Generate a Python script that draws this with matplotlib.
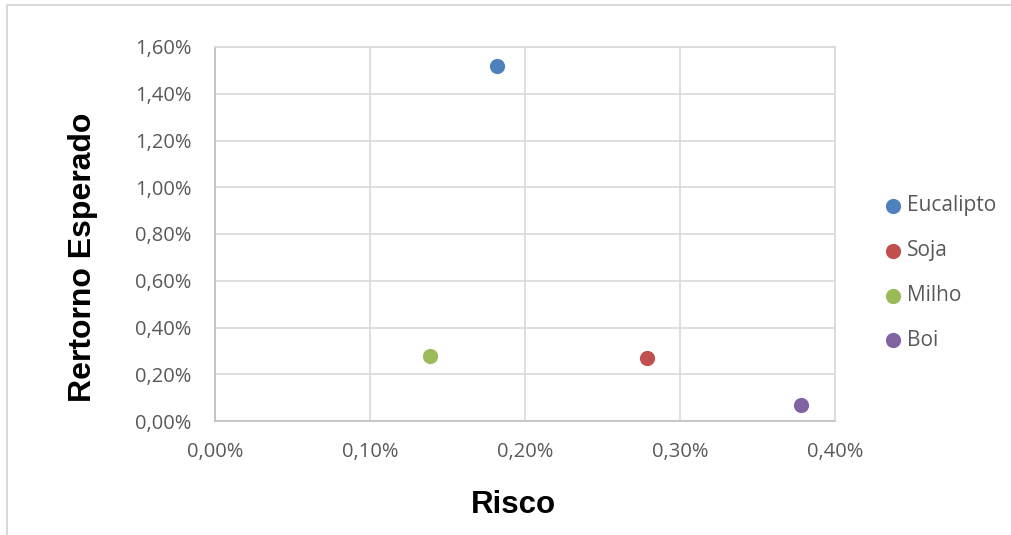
import matplotlib.pyplot as plt
from matplotlib.patches import Rectangle
from matplotlib.ticker import FuncFormatter

# dados (risco e retorno em %)
ativos = ['Eucalipto', 'Soja', 'Milho', 'Boi']
risco = [0.182, 0.279, 0.139, 0.378]
retorno = [1.52, 0.27, 0.28, 0.07]
cores = ['#4F81BD', '#C0504D', '#9BBB59', '#8064A2']

xticks = [0.0, 0.1, 0.2, 0.3, 0.4]
yticks = [0.0, 0.2, 0.4, 0.6, 0.8, 1.0, 1.2, 1.4, 1.6]

cinza = '#595959'
fonte_tick = 'Open Sans'

fig = plt.figure(figsize=(10.11, 5.35), dpi=100)
# borda do grafico
fig.patches.append(Rectangle((7 / 1011, -0.1), 1.2, 1.1 - 5 / 535,
                             transform=fig.transFigure, fill=False,
                             edgecolor='#D9D9D9', linewidth=1.5))

ax = fig.add_axes([215 / 1011, 114 / 535, 620 / 1011, 374 / 535])

for nome, x, y, c in zip(ativos, risco, retorno, cores):
    ax.scatter(x, y, s=120, color=c, label=nome, zorder=3, linewidths=0)

ax.set_xlim(0, 0.4)
ax.set_ylim(0, 1.6)
ax.set_xticks(xticks)
ax.set_yticks(yticks)
fmt = FuncFormatter(lambda v, p: ('%.2f%%' % v).replace('.', ','))
ax.xaxis.set_major_formatter(fmt)
ax.yaxis.set_major_formatter(fmt)
ax.grid(True, color='#D9D9D9', linewidth=1.2)
ax.set_axisbelow(True)
for s in ax.spines.values():
    s.set_color('#D9D9D9')
    s.set_linewidth(1.2)
ax.spines['bottom'].set_color('#BFBFBF')
ax.spines['left'].set_color('#BFBFBF')
ax.tick_params(length=0, colors=cinza, labelsize=14.5)
ax.tick_params(axis='x', pad=15)
ax.tick_params(axis='y', pad=17)
for lab in ax.get_xticklabels() + ax.get_yticklabels():
    lab.set_family(fonte_tick)

ax.set_xlabel('Risco', fontsize=22.5, fontweight='bold',
              family='Liberation Sans')
ax.xaxis.set_label_coords(298 / 620, -69 / 374)
ax.set_ylabel('Rertorno Esperado', fontsize=23, fontweight='bold',
              family='Liberation Sans')
ax.yaxis.set_label_coords(-117 / 620, 164 / 374)

leg = ax.legend(loc='center left', bbox_to_anchor=(657 / 620, 148 / 374),
                frameon=False, borderaxespad=0, borderpad=0,
                handletextpad=-0.3, labelspacing=1.15, markerscale=1.0,
                prop={'family': fonte_tick, 'size': 15})
for t in leg.get_texts():
    t.set_color(cinza)

fig.savefig('out.png', dpi=100)
